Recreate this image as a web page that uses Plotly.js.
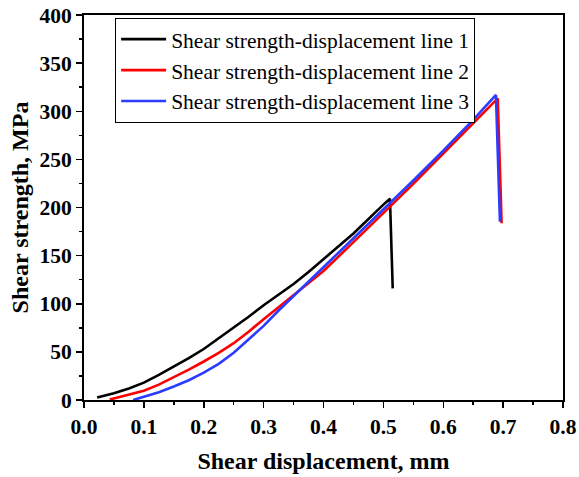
<!DOCTYPE html>
<html>
<head>
<meta charset="utf-8">
<script src="https://cdn.plot.ly/plotly-3.0.1.min.js"></script>
<style>html,body{margin:0;padding:0;background:#fff;}#chart{width:579px;height:477px;}</style>
</head>
<body>
<div id="chart"></div>
<script>
// Series names
var seriesNames = ["Shear strength-displacement line 1", "Shear strength-displacement line 2", "Shear strength-displacement line 3"];
// Line 1 (black)
var x1 = [0.022, 0.05, 0.075, 0.1, 0.125, 0.15, 0.175, 0.2, 0.225, 0.25, 0.275, 0.3, 0.325, 0.35, 0.375, 0.4, 0.45, 0.5, 0.511, 0.5156];
var y1 = [2.5, 7, 12, 18, 26, 34.5, 43.5, 53, 64, 75, 86.5, 98.5, 109.5, 120.5, 133, 146, 173, 203, 209, 116];
// Line 2 (red)
var x2 = [0.043, 0.07, 0.1, 0.125, 0.15, 0.175, 0.2, 0.225, 0.25, 0.275, 0.3, 0.325, 0.35, 0.375, 0.4, 0.45, 0.5, 0.55, 0.6, 0.65, 0.691, 0.6975];
var y2 = [0.5, 4.5, 9.7, 16, 23.5, 31.5, 40, 49, 59, 71, 84, 96.5, 109, 121.5, 134, 164, 194, 224.5, 256, 287.5, 313.4, 183.6];
// Line 3 (blue)
var x3 = [0.082, 0.1, 0.125, 0.15, 0.175, 0.2, 0.225, 0.25, 0.275, 0.3, 0.325, 0.35, 0.375, 0.4, 0.45, 0.5, 0.55, 0.6, 0.65, 0.688, 0.6947];
var y3 = [0, 3.5, 8, 14, 20.5, 28.5, 37.5, 49, 62.5, 77, 93, 108, 123, 137, 167, 197, 228, 259, 291, 316.9, 185.3];
// Tick labels
var xTickVals = [0, 0.1, 0.2, 0.3, 0.4, 0.5, 0.6, 0.7, 0.8];
var xTickText = ["0.0", "0.1", "0.2", "0.3", "0.4", "0.5", "0.6", "0.7", "0.8"];
var yTickVals = [0, 50, 100, 150, 200, 250, 300, 350, 400];
var yTickText = ["0", "50", "100", "150", "200", "250", "300", "350", "400"];
var colors = ["#000000", "#ff0000", "#2b3bff"];

var xs = [x1, x2, x3], ys = [y1, y2, y3];
var traces = xs.map(function (x, i) {
  return { x: x, y: ys[i], type: "scatter", mode: "lines", name: seriesNames[i],
           line: { color: colors[i], width: 2.6 } };
});
function bold(arr) { return arr.map(function (s) { return "<b>" + s + "</b>"; }); }

var serif = "Liberation Serif";
function axisBase() {
  return {
    showline: true, linecolor: "#000", linewidth: 2, mirror: true,
    ticks: "outside", ticklen: 6, tickwidth: 1.5, tickcolor: "#000",
    showgrid: false, zeroline: false, tickmode: "array",
    tickfont: { family: serif, size: 21.5, color: "#000" }
  };
}
var layout = {
  width: 579, height: 477,
  font: { family: serif, color: "#000" },
  margin: { l: 84, r: 16, t: 15, b: 77 },
  paper_bgcolor: "#fff", plot_bgcolor: "#fff",
  showlegend: true,
  legend: { x: 0.065, y: 0.993, xanchor: "left", yanchor: "top",
            bgcolor: "#fff", bordercolor: "#000", borderwidth: 1,
            font: { family: serif, size: 21.5, color: "#000" },
            itemwidth: 45, tracegroupgap: 0 },
  xaxis: Object.assign(axisBase(), {
    range: [0, 0.8], tickvals: xTickVals, ticktext: bold(xTickText),
    minor: { ticks: "outside", ticklen: 3, tickwidth: 1.5, tickcolor: "#000", dtick: 0.05 },
    title: { text: "<b>Shear displacement, mm</b>", standoff: 14,
             font: { family: serif, size: 24, color: "#000" } }
  }),
  yaxis: Object.assign(axisBase(), {
    range: [0, 400], tickvals: yTickVals, ticktext: bold(yTickText),
    minor: { ticks: "outside", ticklen: 3, tickwidth: 1.5, tickcolor: "#000", dtick: 25 },
    title: { text: "<b>Shear strength, MPa</b>", standoff: 4,
             font: { family: serif, size: 24, color: "#000" } }
  })
};
Plotly.newPlot("chart", traces, layout, { displayModeBar: false, staticPlot: true });
</script>
</body>
</html>
